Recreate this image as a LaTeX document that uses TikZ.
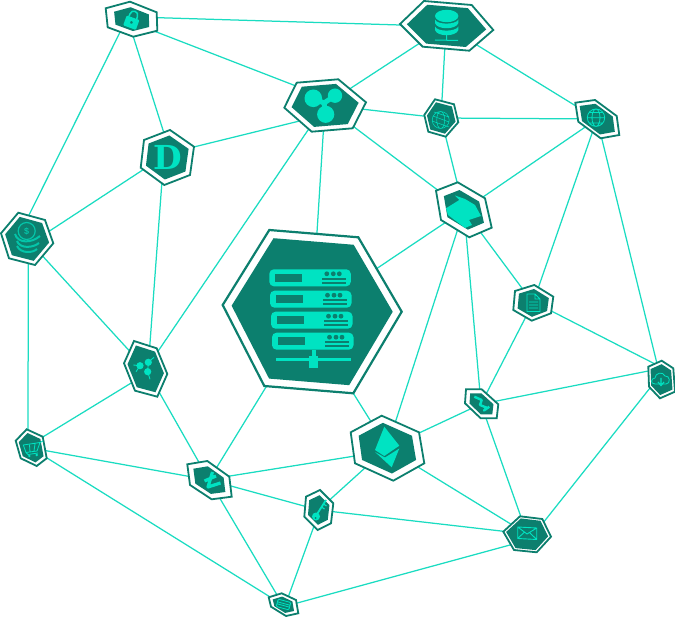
\documentclass[tikz,border=0pt]{standalone}
\usepackage{fontspec}
\newfontfamily\dfont{DejaVu Serif}[BoldFont={DejaVu Serif Bold}]
\setmainfont{Liberation Sans}
\definecolor{dk}{HTML}{0C7F6E}
\definecolor{mint}{HTML}{00E3C2}
\definecolor{edgec}{HTML}{1ADCC1}
\tikzset{
 link/.style={draw=edgec,line width=1.25pt},
 hexout/.style={draw=dk,fill=white,line width=1.8pt,line join=miter},
 hexin/.style={fill=dk},
 ic/.style={fill=mint},
 il/.style={draw=mint,line width=0.8pt,fill=none},
 ik/.style={draw=mint,line width=2.6pt,fill=none,line join=round},
}
\newcommand\hexa[5][1.8pt]{%
 \draw[hexout,line width=#1] #5 -- cycle;
 \begin{scope}[shift={(#2,#3)},scale=#4,shift={(-#2,-#3)}]\fill[hexin] #5 -- cycle;\end{scope}}
\newcommand\lnk[4]{\draw[link,shorten <=-2pt,shorten >=-2pt] ([shift={(#2)}]#1) -- ([shift={(#4)}]#3);}
\newcommand\srow[2]{%
 \begin{scope}[shift={(#1,#2)}]
  \fill[ic,rounded corners=4.5pt] (0,0) rectangle (81.5,17);
  \fill[dk] (5.5,4.7) rectangle (33,12.7);
  \foreach \q in {57.5,64,70}{\fill[dk] (\q,4.5) circle (2.4);}
  \fill[dk] (52.5,8.8) rectangle (76.5,10.8);
  \fill[dk] (52.5,12.8) rectangle (76.5,14.8);
 \end{scope}}
\begin{document}
\begin{tikzpicture}[x=1pt,y=-1pt]
\useasboundingbox (0,0) rectangle (675,617);
\coordinate (lock) at (132,19);
\coordinate (dcoin) at (167,157.5);
\coordinate (ripple) at (325,105);
\coordinate (db) at (446,26);
\coordinate (globea) at (441,118);
\coordinate (globeb) at (597,119);
\coordinate (exch) at (464,210);
\coordinate (docu) at (533,303);
\coordinate (coins) at (27,239);
\coordinate (molec) at (146,369);
\coordinate (cart) at (31,448);
\coordinate (lite) at (209,480);
\coordinate (keyn) at (318.5,510);
\coordinate (card) at (283,605);
\coordinate (server) at (312,312);
\coordinate (eth) at (387,448);
\coordinate (zig) at (481,404);
\coordinate (mail) at (527,534);
\coordinate (cloud) at (661,380);
% connectors
\foreach \a/\b in {ripple/db,ripple/globea,ripple/exch,ripple/server,ripple/molec,db/globea,db/globeb,globea/globeb,globea/exch,
 globeb/exch,globeb/docu,globeb/cloud,exch/server,exch/docu,exch/zig,exch/eth,docu/zig,
 coins/molec,molec/lite,cart/lite,cart/card,lite/server,lite/keyn,lite/card,
 keyn/eth,keyn/mail,eth/zig,eth/mail,zig/mail}
 {\draw[link] (\a) -- (\b);}
\lnk{lock}{-12,13.3}{coins}{2,-24}
\lnk{lock}{1.3,17.7}{dcoin}{-3.7,-26.5}
\lnk{lock}{25.3,13.3}{ripple}{-29,-19}
\lnk{lock}{26.3,-1.3}{db}{-46,-1}
\lnk{dcoin}{-5.3,27.5}{molec}{4,-26}
\lnk{dcoin}{-24.3,12.5}{coins}{23,-8.3}
\lnk{dcoin}{28,-10.8}{ripple}{-28.3,16.7}
\lnk{coins}{1.3,26}{cart}{-3,-18}
\lnk{zig}{15.7,-3}{cloud}{-12.7,-9}
\lnk{docu}{19.7,8.7}{cloud}{-6,-16}
\lnk{mail}{17,-12.3}{cloud}{-11,8}
\lnk{card}{15.3,-2.3}{mail}{-17,11}
\lnk{lite}{21,-4}{eth}{-32,8}
\lnk{keyn}{-5.2,18}{card}{6.3,-11}
\lnk{server}{41.3,81.3}{eth}{-17,-28}
\lnk{molec}{-14.3,13.7}{cart}{12.3,-11.3}
% lock
\hexa{132}{19}{0.68}{(130,1.7) -- (156.7,12.3) -- (157.3,30.7) -- (133.3,36.7) -- (107.7,27.3) -- (105.7,8.3)}
\begin{scope}[shift={(132,20)},rotate=-20]
 \fill[ic,rounded corners=1pt] (-6.5,-2.5) rectangle (7,8);
 \draw[draw=mint,line width=1.5pt] (-4,-2.5) -- (-4,-5) .. controls (-4,-10.5) and (4,-10.5) .. (4,-5) -- (4,-2.5);
 \fill[dk] (0.3,2.5) circle (1.5);
\end{scope}
% D
\hexa{167}{157.5}{0.8}{(170,130) -- (194,146.7) -- (190,175) -- (164.3,185) -- (140.7,167.7) -- (144,140)}
\node[text=mint,inner sep=0pt,font=\dfont\bfseries\fontsize{33}{33}\selectfont] (dletter) at (168,157) {D};
% ripple
\hexa{325}{105}{0.82}{(338.3,79.3) -- (366,102.3) -- (352.7,128.3) -- (311.7,131.7) -- (284.3,107.7) -- (296.7,82.7)}
\fill[ic] (313.3,98.3) circle (8.8) (335,95.7) circle (7.2) (325.7,114.3) circle (8.6);
\draw[draw=mint,line width=5pt] (313.3,98.3) -- (324,103) (335,95.7) -- (324,103) (325.7,114.3) -- (324,103);
% database
\hexa{446}{26}{0.85}{(424,1) -- (471.7,5) -- (493.3,30) -- (469.3,50.7) -- (422.7,46.7) -- (400,24)}
\fill[ic] (446.7,16) ellipse (11.7 and 6.2);
\fill[ic] (435,19.5) .. controls (437,25) and (456,25) .. (458.4,19.5) -- (458.4,23) .. controls (456,30) and (437,30) .. (435,23) -- cycle;
\fill[ic] (435,26.5) .. controls (437,32) and (456,32) .. (458.4,26.5) -- (458.4,30) .. controls (456,37) and (437,37) .. (435,30) -- cycle;
\draw[draw=mint,line width=1pt] (446.7,34) -- (446.7,40) (435,40) -- (458,40.5);
% globe a
\hexa{441}{118}{0.84}{(435,99.3) -- (454,104.3) -- (458.3,122.3) -- (445.7,136.7) -- (428.3,131.7) -- (424.3,115)}
\draw[il,line width=0.5pt] (440.7,120) circle (8.5) (440.7,120) ellipse (4 and 8.5) (433,116) -- (449,122) (432,121) -- (449,127) (434,112) -- (449,117);
% globe b
\hexa{597}{119}{0.8}{(595,100) -- (616.7,116) -- (619.3,135) -- (600.7,138.3) -- (578.3,121.7) -- (575.3,102.7)}
\draw[il] (596,117.7) circle (8.7) (596,117.7) ellipse (4 and 8.7) (587.3,117.7) -- (604.7,117.7) (589,112.5) -- (603,112.5) (589,123) -- (603,123);
% exchange
\hexa{464}{210}{0.72}{(457.7,182.3) -- (485,198.3) -- (491.7,227.7) -- (469.3,237.3) -- (441,220) -- (436,190.7)}
\fill[ic] (446,208.3) -- (459.3,200) -- (455,195.5) -- (465,199) -- (475,205) -- (481,216) -- (469,220) -- (472,225) -- (465,228) -- (448,215) -- cycle;
% document
\hexa{533}{303}{0.78}{(534.3,285) -- (553.3,296.7) -- (551,313.3) -- (531.7,320.7) -- (513.3,310) -- (515,291)}
\draw[il] (527,294) -- (535,294) -- (540,299) -- (540,311.5) -- (527,311.5) -- cycle (535,294) -- (535,299) -- (540,299) (529,302) -- (538,302) (529,305) -- (538,305) (529,308) -- (538,308);
% coins
\hexa{27}{239}{0.84}{(18.3,212.7) -- (45,220) -- (53.3,243.3) -- (35,265) -- (9,258.3) -- (1,233.3)}
\draw[draw=mint!70!dk,line width=1.2pt] (26.7,231) circle (8.5);
\draw[draw=mint!70!dk,line width=2pt] (15,234) .. controls (18,244) and (32,243) .. (40,236);
\draw[draw=mint!70!dk,line width=2pt] (17,241) .. controls (20,249) and (33,248) .. (39,243);
\draw[draw=mint!70!dk,line width=2pt] (17,246) .. controls (21,254) and (33,253) .. (37,249);
\node[text=mint!70!dk,inner sep=0pt,font=\bfseries\fontsize{9}{9}\selectfont] (dollar) at (26.7,231) {\$};
% molecule
\hexa{146}{369}{0.84}{(134,341) -- (156.7,348.3) -- (167.3,374) -- (157.3,396.7) -- (135,390.7) -- (124,363.3)}
\draw[draw=mint,line width=0.9pt] (133.3,365) -- (140,365.7) (154,357.3) -- (148.3,362.3) (150,379.3) -- (147.7,371.7) (136,371.7) -- (140,365.7) (148.3,362.3) -- (147.7,371.7);
\fill[ic] (140,365.7) circle (3.6) (148.3,362.3) circle (3.6) (147.7,371.7) circle (3.6);
% cart
\hexa{31}{448}{0.8}{(26.7,429.3) -- (42.7,436.7) -- (46.7,458.3) -- (36.7,466) -- (20.7,458.3) -- (15.7,440.7)}
\draw[il] (23.3,445) -- (40,442.5) -- (37,451) -- (26,452.5) -- cycle (26,452.5) -- (28,454.5) -- (38,453) (29.5,445) -- (30,452) (35,444) -- (34,451) (40,442.5) -- (43,441);
\fill[ic] (29.3,456) circle (1.3) (36.7,455) circle (1.3);
% litecoin
\hexa{209}{480}{0.72}{(207.3,461) -- (229.3,476.7) -- (231.7,496.7) -- (211.7,499.3) -- (190,485) -- (187.3,464.3)}
\draw[ik,line width=3.2pt] (212.5,472) -- (208,487) -- (220.5,483) (204.5,481) -- (216,476);
% key
\hexa{318.5}{510}{0.74}{(320,490) -- (333.3,503.3) -- (331,523.3) -- (317.7,530) -- (304.3,516.7) -- (306,496.7)}
\fill[ic] (316,516.5) circle (4);
\draw[draw=mint,line width=1.8pt] (316.5,515) -- (326,500);
\draw[draw=mint,line width=1.2pt] (321.5,507) -- (324.5,509) (323.5,504) -- (326.5,506);
\fill[dk] (315.5,518) circle (1);
% card
\hexa{283}{605}{0.72}{(281.7,593.3) -- (296,600) -- (298.3,613.3) -- (286,616) -- (271,606.7) -- (268.7,597.3)}
\begin{scope}[shift={(283.5,604.5)},rotate=-15]
 \draw[il,rounded corners=1pt] (-6.5,-3.8) rectangle (6.5,3.8) (-6.5,-1) -- (6.5,-1) (-6.5,1) -- (6.5,1);
\end{scope}
% server
\hexa[2.2pt]{312}{312}{0.9}{(269.3,230) -- (358.3,237.3) -- (401.7,311.7) -- (353.3,393.3) -- (264.3,386) -- (222.7,305)}
\srow{269.3}{269.3}\srow{270}{290.7}\srow{271}{311.7}\srow{272}{332.7}
\fill[ic] (276,357.7) rectangle (351,361);
\fill[ic] (312.3,350) rectangle (315.6,356);
\fill[ic] (309.3,355.7) rectangle (318.3,367.7);
% ethereum
\hexa{387}{448}{0.78}{(381.7,415.7) -- (419,432.3) -- (424.3,463.3) -- (393.3,480.7) -- (355,463.3) -- (350.7,432.3)}
\fill[ic] (384.3,426.7) -- (399.3,445.7) -- (384.3,456) -- (375,450) -- cycle;
\fill[ic] (375,452) -- (385,457.5) -- (399.3,448.5) -- (391.7,467.3) -- cycle;
% zigzag
\hexa{481}{404}{0.72}{(481.7,389.3) -- (498.3,404.3) -- (496.7,418.3) -- (480.7,418.3) -- (465,403.3) -- (466,389.3)}
\draw[ik,line width=2.4pt] (474.3,396.7) -- (481.7,400) -- (480,405) -- (486.7,407.7) -- (484,410.5) -- (489.3,406.7);
% mail
\hexa{527}{534}{0.88}{(520,516.3) -- (542.3,519) -- (551,536.7) -- (536.7,552.3) -- (514,550) -- (503.3,531.7)}
\draw[il,line width=0.9pt] (517.7,527) -- (536.7,528) -- (536.7,539.5) -- (517.7,538.5) -- cycle (517.7,527) -- (527,534) -- (536.7,528) (517.7,538.5) -- (524,532.5) (536.7,539.5) -- (530,533);
% cloud
\hexa{661}{380}{0.82}{(661.7,360.7) -- (673.3,368.3) -- (675,391.7) -- (660,398.3) -- (649,386.7) -- (648.3,366.7)}
\draw[il] (655,384) .. controls (650,384) and (651,378) .. (655,378) .. controls (655,373) and (663,371) .. (665,376) .. controls (670,375) and (671,384) .. (666,384) -- cycle;
\draw[draw=mint,line width=1.2pt] (661,378) -- (661,384) (658,382) -- (661,385.5) -- (664,382);
\end{tikzpicture}
\end{document}
